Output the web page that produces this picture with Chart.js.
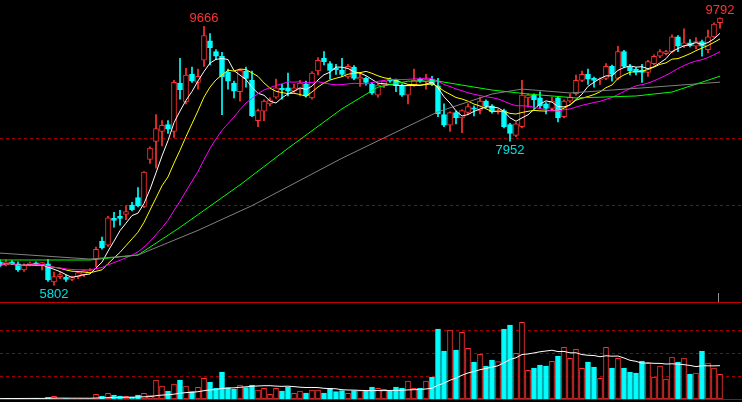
<!DOCTYPE html>
<html>
<head>
<meta charset="utf-8">
<script src="https://cdn.jsdelivr.net/npm/chart.js@4/dist/chart.umd.min.js"></script>
<style>
  html, body { margin: 0; padding: 0; background: #000; overflow: hidden; }
  canvas { display: block; }
</style>
</head>
<body>
<canvas id="priceChart" width="742" height="303"></canvas>
<canvas id="volChart" width="742" height="99"></canvas>
<script>
// DATA
const opens  = [6150,6100,6150,6120,6030,6110,6130,6110,6120,5850,5930,5920,5890,5930,5960,6000,6190,6460,6400,6800,6830,6860,7000,7110,6980,7680,7950,8100,8200,8100,8820,8540,8950,8830,9160,9450,9290,9220,8980,8820,8690,9000,8860,8260,8400,8510,8610,8740,8750,8700,8730,8810,8600,9000,9190,9110,9040,9010,8910,9060,8880,8890,8800,8640,8790,8880,8860,8790,8640,8790,8880,8840,8880,8780,8350,8190,8380,8300,8380,8450,8410,8550,8480,8390,8410,8200,8040,8170,8600,8640,8600,8510,8440,8600,8320,8550,8660,8860,8950,8890,8870,8890,9070,8890,9290,9060,9030,9010,8980,9110,9220,9260,9290,9510,9370,9420,9370,9440,9320,9510,9720];
const highs  = [6180,6180,6170,6150,6120,6150,6150,6140,6190,6000,5990,5950,5940,6000,6030,6050,6370,6520,6830,6890,6920,6990,7040,7260,7500,7870,8350,8260,8260,8860,9190,9040,9060,9030,9666,9560,9320,9280,9030,8850,9030,9060,9000,8430,8570,8600,8880,8800,8970,8800,8860,8850,8990,9200,9290,9140,9100,9190,9100,9080,8980,8910,8830,8810,8860,8900,8880,8810,8800,9030,8900,8950,8920,8890,8510,8390,8400,8420,8510,8480,8610,8570,8500,8430,8430,8220,8230,8860,8660,8660,8690,8530,8610,8620,8570,8660,8940,9000,9030,8910,8900,9110,9090,9370,9310,9100,9050,9100,9160,9240,9320,9310,9540,9530,9630,9470,9500,9460,9610,9720,9792];
const lows   = [6080,6090,6110,6010,6010,6090,6100,6030,5860,5802,5900,5860,5870,5900,5930,5980,6080,6340,6380,6670,6700,6780,6910,6970,6960,7620,7550,7880,8070,8010,8580,8510,8830,8730,9070,9090,9170,8350,8730,8600,8550,8760,8320,8170,8260,8480,8590,8580,8630,8680,8630,8610,8580,8940,9090,8880,8950,8920,8890,8870,8770,8790,8650,8610,8750,8830,8690,8620,8510,8770,8830,8730,8780,8320,8170,8100,8210,8080,8350,8330,8360,8450,8370,8360,8150,7952,8020,8150,8460,8440,8440,8360,8420,8240,8300,8530,8640,8840,8800,8760,8800,8870,8850,8870,9050,8940,8940,8830,8920,9090,9200,9240,9270,9290,9350,9360,9330,9220,9270,9500,9640];
const closes = [6100,6150,6120,6030,6100,6130,6120,6140,5880,5930,5960,5890,5930,5990,6020,6020,6340,6360,6810,6770,6800,6900,6930,6990,7490,7850,8140,8190,8130,8830,8720,8940,8850,8920,9530,9350,9220,8910,8850,8700,9010,8890,8330,8410,8550,8570,8750,8720,8700,8750,8820,8630,8970,9160,9140,9010,9020,8950,9070,8890,8910,8830,8670,8790,8850,8850,8780,8640,8790,8860,8850,8880,8800,8360,8190,8380,8300,8410,8470,8430,8550,8470,8390,8410,8170,8070,8210,8640,8640,8570,8480,8440,8550,8300,8550,8610,8860,8950,8880,8860,8880,9070,8950,9290,9070,9000,8980,8980,9140,9220,9290,9290,9510,9370,9420,9380,9440,9370,9510,9700,9790];
const volumes = [0.3,0.7,0.3,0.7,0.7,0.7,0.7,0.5,1.7,2.7,0.5,0.5,0.5,0.5,0.5,0.5,
  4.7,3,5.7,4,3,2.7,2,4,5.7,4,19,13,8,15,19,13,7.3,11.7,20.7,16.7,10.7,27,11.3,10,14,11.3,14,9,10.7,4.7,10.7,8,11.7,5.7,8,6,9,9,6,10.7,7.3,8.3,5.7,8.3,8.3,8,12,10.7,9.7,8,12,10.7,18,10.7,10.7,18,22,
  70,48,69,49,66.7,50.7,37,44.7,33,39,37.3,70,74,45.7,76.7,28.7,31,34,33,37.7,43,51.7,40.7,49.7,30.7,37,32,20.7,51.7,31,40.7,31,27,26,38,35.7,22,33,20,42,37,41,25,26,48,36,31,24.7];
// long averages: [candle index, value]
const ma60Pts  = [[0,6179],[15,6179],[23,6253],[30,6666],[40,7300],[48,7846],[57,8436],[63,8760],[68,8849],[73,8849],[82,8716],[88,8657],[96,8598],[106,8627],[112,8686],[120,8922]];
const ma120Pts = [[0,6282],[15,6193],[23,6253],[33,6621],[42,6990],[57,7698],[73,8391],[82,8657],[87,8730],[95,8672],[109,8760],[120,8834]];
const priceGrid = [7000, 8000];
const volGrid = [23, 46, 69];
const extremes = [
  { i: 34, v: 9666, label: '9666', above: true },
  { i: 9, v: 5802, label: '5802', above: false },
  { i: 85, v: 7952, label: '7952', above: false },
  { i: 120, v: 9792, label: '9792', above: true }
];

const RED = '#ff3232', CYAN = '#00ffff';
const up = closes.map((c, i) => c >= opens[i]);
const candleColor = up.map(u => u ? RED : CYAN);
const bodyFill = up.map(u => u ? '#000' : CYAN);

function ma(arr, n) {
  return arr.map((_, i) => {
    const s = arr.slice(Math.max(0, i - n + 1), i + 1);
    return { x: i, y: s.reduce((a, b) => a + b, 0) / s.length };
  });
}
const toXY = pts => pts.map(p => ({ x: p[0], y: p[1] }));

const xScale = { type: 'linear', display: false, offset: false, min: 0, max: 123.67 };

function gridPlugin(values, color) {
  return {
    id: 'grid',
    beforeDatasetsDraw(chart) {
      const ctx = chart.ctx, y = chart.scales.y;
      ctx.save();
      ctx.strokeStyle = color;
      ctx.lineWidth = 1;
      ctx.setLineDash([3, 3]);
      values.forEach(v => {
        const py = Math.round(y.getPixelForValue(v)) + 0.5;
        ctx.beginPath(); ctx.moveTo(0, py); ctx.lineTo(chart.width, py); ctx.stroke();
      });
      ctx.restore();
    }
  };
}

const labelPlugin = {
  id: 'labels',
  afterDraw(chart) {
    const ctx = chart.ctx, x = chart.scales.x, y = chart.scales.y;
    ctx.save();
    ctx.font = '13px "Liberation Sans", Arial, sans-serif';
    ctx.textAlign = 'center';
    extremes.forEach(e => {
      let px = x.getPixelForValue(e.i);
      px = Math.min(px, chart.width - 16);
      const py = y.getPixelForValue(e.v);
      ctx.fillStyle = e.above ? RED : '#00e0e0';
      ctx.textBaseline = e.above ? 'bottom' : 'top';
      ctx.fillText(e.label, px, e.above ? py - 1 : py + 3);
    });
    // separator line and cursor tick
    ctx.strokeStyle = '#c00000';
    ctx.beginPath(); ctx.moveTo(0, chart.height - 0.5); ctx.lineTo(chart.width, chart.height - 0.5); ctx.stroke();
    const cx = Math.round(x.getPixelForValue(closes.length - 1)) - 1.5;
    ctx.strokeStyle = '#909090';
    ctx.beginPath(); ctx.moveTo(cx, chart.height - 10); ctx.lineTo(cx, chart.height - 1); ctx.stroke();
    ctx.restore();
  }
};

const line = (data, color) => ({
  type: 'line', data, borderColor: color, borderWidth: 1, pointRadius: 0, tension: 0, order: 0
});

new Chart(document.getElementById('priceChart').getContext('2d'), {
  data: {
    datasets: [
      { type: 'bar', data: closes.map((c, i) => ({ x: i, y: [lows[i], highs[i]] })),
        backgroundColor: candleColor, barThickness: 1, grouped: false, order: 3 },
      { type: 'bar', data: closes.map((c, i) => ({ x: i, y: [opens[i], c] })),
        backgroundColor: bodyFill, borderColor: candleColor, borderWidth: 1, borderSkipped: false,
        barThickness: 5, grouped: false, minBarLength: 1, order: 2 },
      line(toXY(ma120Pts), '#808080'),
      line(toXY(ma60Pts), '#00ff00'),
      line(ma(closes, 20), '#ff00ff'),
      line(ma(closes, 10), '#ffff00'),
      line(ma(closes, 5), '#ffffff')
    ]
  },
  options: {
    responsive: false, animation: false, devicePixelRatio: 1,
    layout: { padding: 0 },
    plugins: { legend: { display: false }, tooltip: { enabled: false } },
    scales: { x: xScale, y: { display: false, min: 5537, max: 10060 } }
  },
  plugins: [gridPlugin(priceGrid, '#a00000'), labelPlugin]
});

const volBaseline = {
  id: 'base',
  afterDraw(chart) {
    const ctx = chart.ctx, py = Math.round(chart.scales.y.getPixelForValue(0)) + 0.5;
    ctx.save();
    ctx.strokeStyle = '#c00000';
    ctx.beginPath(); ctx.moveTo(0, py); ctx.lineTo(chart.width, py); ctx.stroke();
    ctx.restore();
  }
};

new Chart(document.getElementById('volChart').getContext('2d'), {
  data: {
    datasets: [
      { type: 'bar', data: volumes.map((v, i) => ({ x: i, y: [0, v] })),
        backgroundColor: bodyFill, borderColor: candleColor, borderWidth: 1, borderSkipped: false,
        barThickness: 5, grouped: false, order: 2 },
      line(ma(volumes, 20), '#ffffff')
    ]
  },
  options: {
    responsive: false, animation: false, devicePixelRatio: 1,
    layout: { padding: 0 },
    plugins: { legend: { display: false }, tooltip: { enabled: false } },
    scales: { x: xScale, y: { display: false, min: -3, max: 96 } }
  },
  plugins: [gridPlugin(volGrid, '#a00000'), volBaseline]
});
</script>
</body>
</html>
